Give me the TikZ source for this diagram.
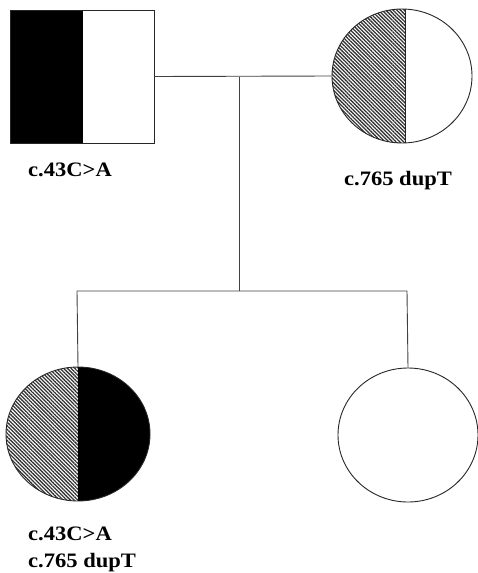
\documentclass[tikz,border=0pt]{standalone}
\usepackage{fontspec}
\setmainfont{Liberation Serif}
\usetikzlibrary{patterns.meta,shapes.geometric}
\begin{document}
\begin{tikzpicture}[x=1pt,y=-1pt,
  outline/.style={draw=black!85,line width=0.9pt},
  hatch/.style={pattern={Lines[angle=-45,distance=2.6pt,line width=1.3pt]},pattern color=black!80},
  link/.style={draw=black!75,line width=0.9pt},
  lbl/.style={font=\fontsize{20.5}{24}\selectfont\bfseries,inner sep=0pt,xscale=1.1}]
\useasboundingbox (0,0) rectangle (478,573);
% father
\fill[black] (10,10) rectangle (83,143);
\node[outline,minimum width=144pt,minimum height=133pt,inner sep=0pt] (father) at (82,76.5) {};
% mother
\begin{scope}
\clip (402,76) ellipse [x radius=70,y radius=67];
\fill[white] (332,0) rectangle (480,150);
\path[hatch] (330,5) rectangle (405,150);
\end{scope}
\node[outline,ellipse,minimum width=140pt,minimum height=134pt,inner sep=0pt] (mother) at (402,76) {};
\draw[outline] (405,9) -- (405,143);
% child 1
\begin{scope}
\clip (78,434) ellipse [x radius=72,y radius=67];
\path[hatch] (0,360) rectangle (78,505);
\fill[black] (78,360) rectangle (155,505);
\end{scope}
\node[outline,ellipse,minimum width=144pt,minimum height=134pt,inner sep=0pt] (child1) at (78,434) {};
% child 2
\node[outline,ellipse,minimum width=140pt,minimum height=134pt,inner sep=0pt] (child2) at (408,435) {};
% connectors
\coordinate (m) at (239,77);
\coordinate (s) at (239,291);
\coordinate (s1) at (77,291);
\coordinate (s2) at (407,291);
\draw[link] (father.east) -- (mother.west);
\draw[link] (m) -- (s);
\draw[link] (child1.north) -- (s1) -- (s2) -- (child2.north);
% labels
\node[lbl] (l1) at (70,170) {c.43C>A};
\node[lbl] (l2) at (398,181) {c.765 dupT};
\node[lbl,anchor=west] (l3) at (28,534) {c.43C>A};
\node[lbl,anchor=west] (l4) at (28,563) {c.765 dupT};
\end{tikzpicture}
\end{document}
